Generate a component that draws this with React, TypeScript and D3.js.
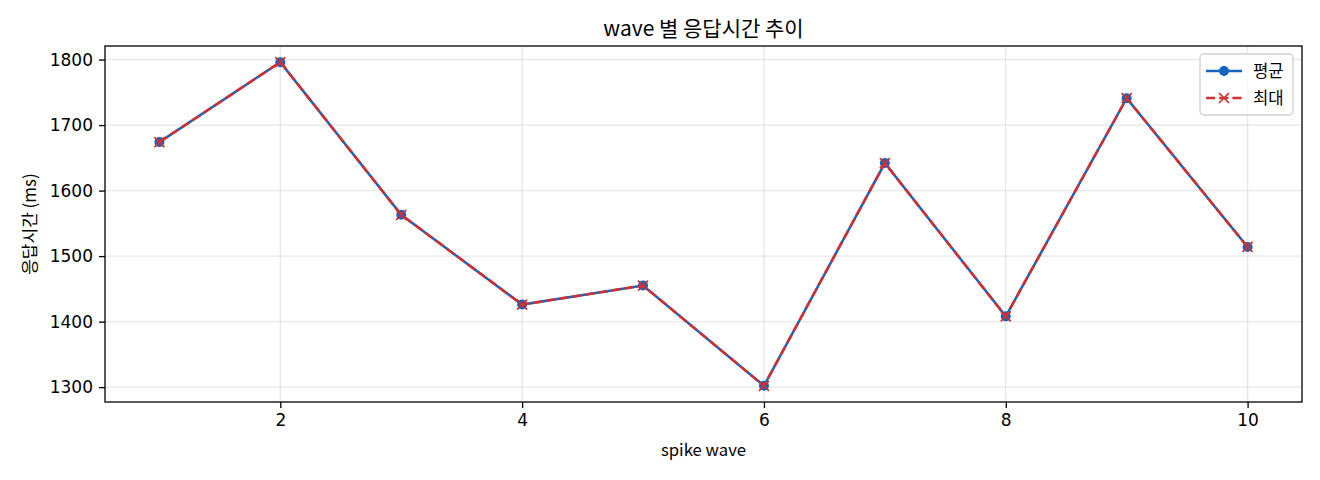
import { useEffect, useRef } from "react";
import * as d3 from "d3";

const waves = [1, 2, 3, 4, 5, 6, 7, 8, 9, 10];
const avgMs = [1674, 1796, 1563, 1426, 1455, 1302, 1642, 1408, 1741, 1514];
const maxMs = [1674, 1796, 1563, 1426, 1455, 1302, 1642, 1408, 1741, 1514];
const xTicks = [2, 4, 6, 8, 10];
const yTicks = [1300, 1400, 1500, 1600, 1700, 1800];

const C_AVG = "#1565C0";
const C_MAX = "#D32F2F";
const FONT = "'Noto Sans CJK KR', 'DejaVu Sans', sans-serif";
const TICK_FONT = "'DejaVu Sans', sans-serif";
const DASH = "9.2,4";

export default function App() {
  const svgRef = useRef<SVGSVGElement>(null);

  useEffect(() => {
    const svg = d3.select(svgRef.current);
    svg.selectAll("*").remove();

    const width = 1320, height = 480;
    const margin = { top: 46, right: 18, bottom: 78, left: 105 };
    const W = width - margin.left - margin.right;
    const H = height - margin.top - margin.bottom;

    const all = avgMs.concat(maxMs);
    const yMin = d3.min(all)!, yMax = d3.max(all)!;
    const yPad = (yMax - yMin) * 0.05;
    const xScale = d3.scaleLinear().domain([0.55, 10.45]).range([0, W]);
    const yScale = d3.scaleLinear().domain([yMin - yPad, yMax + yPad]).range([H, 0]);

    svg.append("rect").attr("width", width).attr("height", height).attr("fill", "white");

    const g = svg.append("g").attr("transform", `translate(${margin.left},${margin.top})`);

    // Grid
    g.selectAll(".vg").data(xTicks).enter().append("line")
      .attr("x1", d => xScale(d)).attr("x2", d => xScale(d))
      .attr("y1", 0).attr("y2", H)
      .attr("stroke", "#b0b0b0").attr("stroke-opacity", 0.3).attr("stroke-width", 1.3);
    g.selectAll(".hg").data(yTicks).enter().append("line")
      .attr("x1", 0).attr("x2", W)
      .attr("y1", d => yScale(d)).attr("y2", d => yScale(d))
      .attr("stroke", "#b0b0b0").attr("stroke-opacity", 0.3).attr("stroke-width", 1.3);

    // Axes
    g.append("g").attr("transform", `translate(0,${H})`)
      .call(d3.axisBottom(xScale).tickValues(xTicks).tickSize(6).tickPadding(6).tickFormat(d3.format("d")))
      .call(ax => ax.select(".domain").remove())
      .call(ax => ax.selectAll(".tick line").attr("stroke", "#000").attr("stroke-width", 1.3))
      .call(ax => ax.selectAll(".tick text").attr("fill", "#000").attr("font-size", 17).attr("font-family", TICK_FONT));

    g.append("g")
      .call(d3.axisLeft(yScale).tickValues(yTicks).tickSize(6).tickPadding(6).tickFormat(d3.format("d")))
      .call(ax => ax.select(".domain").remove())
      .call(ax => ax.selectAll(".tick line").attr("stroke", "#000").attr("stroke-width", 1.3))
      .call(ax => ax.selectAll(".tick text").attr("fill", "#000").attr("font-size", 17).attr("font-family", TICK_FONT));

    g.append("rect").attr("width", W).attr("height", H)
      .attr("fill", "none").attr("stroke", "#000").attr("stroke-width", 1.3);

    const line = d3.line<number>()
      .x((_, i) => xScale(waves[i]))
      .y(d => yScale(d));

    // Average series
    g.append("path").datum(avgMs).attr("d", line)
      .attr("fill", "none").attr("stroke", C_AVG).attr("stroke-width", 2.5);
    g.selectAll(".avg").data(avgMs).enter().append("circle")
      .attr("cx", (_, i) => xScale(waves[i])).attr("cy", d => yScale(d))
      .attr("r", 5).attr("fill", C_AVG);

    // Max series
    g.append("path").datum(maxMs).attr("d", line)
      .attr("fill", "none").attr("stroke", C_MAX).attr("stroke-width", 2.5)
      .attr("stroke-dasharray", DASH);
    const xMark = (cx: number, cy: number, s: number) =>
      `M${cx - s},${cy - s}L${cx + s},${cy + s}M${cx - s},${cy + s}L${cx + s},${cy - s}`;
    g.selectAll(".mx").data(maxMs).enter().append("path")
      .attr("d", (d, i) => xMark(xScale(waves[i]), yScale(d), 5))
      .attr("stroke", C_MAX).attr("stroke-width", 1.7).attr("fill", "none");

    // Legend
    const lg = g.append("g").attr("transform", `translate(${W - 102},8)`);
    lg.append("rect").attr("width", 93).attr("height", 61).attr("rx", 4)
      .attr("fill", "white").attr("fill-opacity", 0.8)
      .attr("stroke", "#d0d0d0").attr("stroke-width", 1.3);
    lg.append("line").attr("x1", 6).attr("x2", 42).attr("y1", 17).attr("y2", 17)
      .attr("stroke", C_AVG).attr("stroke-width", 2.5);
    lg.append("circle").attr("cx", 24).attr("cy", 17).attr("r", 5).attr("fill", C_AVG);
    lg.append("text").attr("x", 53).attr("y", 17).attr("dy", "0.36em")
      .attr("font-size", 16.7).attr("font-family", FONT).text("평균");
    lg.append("line").attr("x1", 6).attr("x2", 42).attr("y1", 44).attr("y2", 44)
      .attr("stroke", C_MAX).attr("stroke-width", 2.5).attr("stroke-dasharray", DASH);
    lg.append("path").attr("d", xMark(24, 44, 5))
      .attr("stroke", C_MAX).attr("stroke-width", 1.7).attr("fill", "none");
    lg.append("text").attr("x", 53).attr("y", 44).attr("dy", "0.36em")
      .attr("font-size", 16.7).attr("font-family", FONT).text("최대");

    // Labels
    svg.append("text").attr("x", margin.left + W / 2).attr("y", 36)
      .attr("text-anchor", "middle").attr("font-size", 21).attr("font-family", FONT)
      .text("wave 별 응답시간 추이");
    svg.append("text").attr("x", margin.left + W / 2).attr("y", 456)
      .attr("text-anchor", "middle").attr("font-size", 16.7).attr("font-family", FONT)
      .text("spike wave");
    svg.append("text")
      .attr("transform", `translate(36,${margin.top + H / 2}) rotate(-90)`)
      .attr("text-anchor", "middle").attr("font-size", 17).attr("font-family", FONT)
      .text("응답시간 (ms)");
  }, []);

  return (
    <svg ref={svgRef} width={1320} height={480}
      style={{ position: "absolute", left: 0, top: 0, display: "block" }} />
  );
}
